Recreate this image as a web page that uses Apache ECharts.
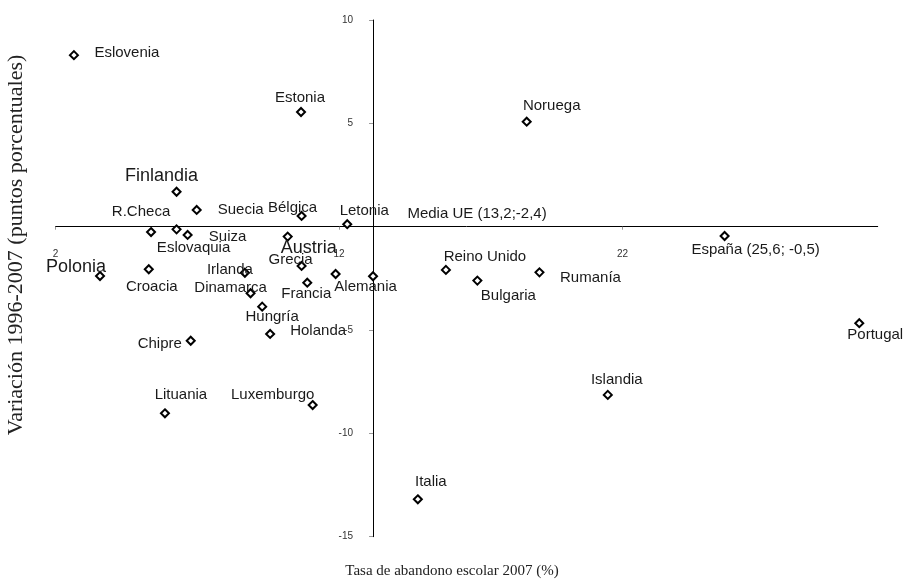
<!DOCTYPE html>
<html>
<head>
<meta charset="utf-8">
<script src="https://cdn.jsdelivr.net/npm/echarts@6/dist/echarts.min.js"></script>
<style>
  html, body { margin: 0; padding: 0; background: #fff; }
  #chart { width: 905px; height: 586px; }
</style>
</head>
<body>
<div id="chart"></div>
<script>
// datos
var paises = ['Eslovenia', 'Estonia', 'Noruega', 'Finlandia', 'Suecia', 'Bélgica', 'Letonia',
    'Media UE (13,2;-2,4)', 'R.Checa', 'Eslovaquia', 'Suiza', 'Austria', 'Grecia', 'Irlanda',
    'Croacia', 'Dinamarca', 'Francia', 'Alemania', 'Hungría', 'Holanda', 'Chipre', 'Polonia',
    'Lituania', 'Luxemburgo', 'Italia', 'Reino Unido', 'Bulgaria', 'Rumanía',
    'España (25,6; -0,5)', 'Portugal', 'Islandia'];
var abandono2007 = [2.65, 10.66, 18.62, 6.27, 6.98, 10.68, 12.29,
    13.2, 5.37, 6.27, 6.66, 10.19, 10.68, 8.68,
    5.29, 8.88, 10.88, 11.88, 9.29, 9.57, 6.77, 3.57,
    5.86, 11.07, 14.78, 15.77, 16.88, 19.07,
    25.6, 30.35, 21.48];
var variacion = [8.30, 5.55, 5.08, 1.69, 0.81, 0.52, 0.12,
    -2.4, -0.26, -0.13, -0.40, -0.48, -1.90, -2.23,
    -2.06, -3.22, -2.71, -2.29, -3.87, -5.19, -5.52, -2.39,
    -9.03, -8.63, -13.19, -2.09, -2.61, -2.21,
    -0.45, -4.67, -8.14];
var ticksX = [2, 12, 22];
var ticksY = [10, 5, -5, -10, -15];

// posición de las etiquetas (desplazamiento del centro del texto respecto al punto, en px)
var etiquetaOffset = [[54, -3], [0, -15], [26, -17], [-14, -17], [45, -1], [-8, -9], [18, -14],
    [105, -63], [-9, -21], [18, 17], [41, 1], [22, 10], [-10, -7], [-14, -4],
    [4, 17], [-19, -6], [0, 10], [31, 12], [11, 9], [49, -4], [-30, 2], [-23, -10],
    [17, -19], [-39, -11], [14, -18], [40, -14], [32, 14], [52, 5],
    [32, 13], [17, 11], [10, -16]];
var etiquetasGrandes = ['Finlandia', 'Polonia', 'Austria'];

var tamSimbolo = 8;
// el eje vertical cruza en la media UE, el horizontal en 0
var cruceX = 13.2;

var chart = echarts.init(document.getElementById('chart'));

var puntos = paises.map(function (p, i) {
    return {
        name: p,
        value: [abandono2007[i], variacion[i]],
        label: {
            position: [tamSimbolo / 2 + etiquetaOffset[i][0], tamSimbolo / 2 + 2 + etiquetaOffset[i][1]],
            fontSize: etiquetasGrandes.indexOf(p) >= 0 ? 18 : 15
        }
    };
});

var grid = { left: 55.5, right: 27.3, top: 20, bottom: 49.3 };
var xMin = 2, xMax = 31, yMin = -15, yMax = 10;
var anchoGrid = 905 - grid.left - grid.right;
var altoGrid = 586 - grid.top - grid.bottom;

var option = {
    animation: false,
    backgroundColor: '#fff',
    grid: grid,
    xAxis: {
        type: 'value',
        min: xMin,
        max: xMax,
        position: 'bottom',
        offset: -altoGrid * (0 - yMin) / (yMax - yMin),
        splitLine: { show: false },
        axisLine: { onZero: false, lineStyle: { color: '#000', width: 1 } },
        axisTick: { show: true, length: 3, customValues: ticksX, lineStyle: { color: '#999' } },
        axisLabel: {
            customValues: ticksX,
            margin: 23,
            color: '#333',
            fontSize: 10,
            fontFamily: 'Liberation Sans'
        }
    },
    yAxis: {
        type: 'value',
        min: yMin,
        max: yMax,
        interval: 5,
        position: 'left',
        offset: -anchoGrid * (cruceX - xMin) / (xMax - xMin),
        splitLine: { show: false },
        axisLine: { show: true, onZero: false, lineStyle: { color: '#000', width: 1 } },
        axisTick: { show: true, length: 4, customValues: ticksY, lineStyle: { color: '#999' } },
        axisLabel: {
            customValues: ticksY,
            margin: 20,
            color: '#333',
            fontSize: 10,
            fontFamily: 'Liberation Sans'
        }
    },
    graphic: [{
        type: 'text',
        rotation: Math.PI / 2,
        x: 16, y: 245,
        style: {
            text: 'Variación 1996-2007 (puntos porcentuales)',
            font: '22px "Liberation Serif"',
            fill: '#222',
            align: 'center',
            verticalAlign: 'middle'
        }
    }, {
        type: 'text',
        x: 452, y: 571,
        style: {
            text: 'Tasa de abandono escolar 2007 (%)',
            font: '15px "Liberation Serif"',
            fill: '#222',
            align: 'center',
            verticalAlign: 'middle'
        }
    }],
    series: [{
        type: 'scatter',
        symbol: 'diamond',
        symbolSize: tamSimbolo,
        itemStyle: { color: '#fff', borderColor: '#000', borderWidth: 2, opacity: 1 },
        label: {
            show: true,
            align: 'center',
            verticalAlign: 'middle',
            formatter: '{b}',
            color: '#1a1a1a',
            fontFamily: 'Liberation Sans'
        },
        labelLayout: { hideOverlap: false },
        emphasis: { disabled: true },
        data: puntos
    }]
};

chart.setOption(option);
</script>
</body>
</html>
